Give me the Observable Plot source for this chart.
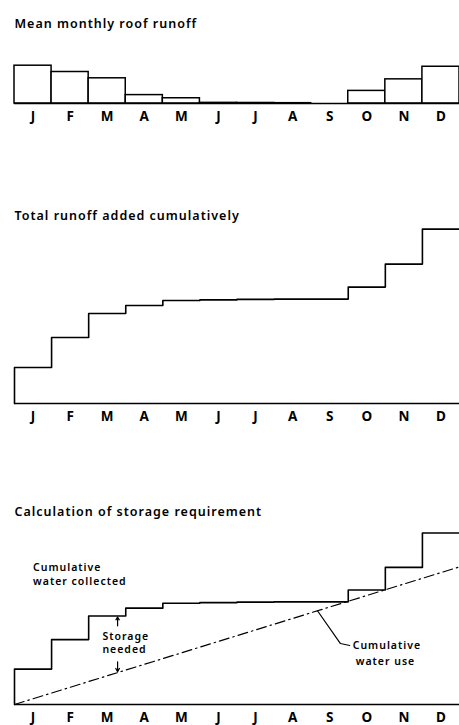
<!DOCTYPE html>
<html><head><meta charset="utf-8">
<script src="https://cdn.jsdelivr.net/npm/d3@7"></script>
<script src="https://cdn.jsdelivr.net/npm/@observablehq/plot@0.6"></script>
<style>
html,body{margin:0;padding:0;background:#fff;}
#chart{position:relative;width:459px;height:725px;overflow:hidden;}
#chart svg{position:absolute;left:0;}
</style></head><body><div id="chart"></div>
<script>
// ---- data ----
const months = ["J","F","M","A","M","J","J","A","S","O","N","D"];
const monthlyRunoff = [36, 30, 24, 8, 5, 0.6, 0.5, 0.3, 0, 12, 23, 35];
const cumulativeUseStartEnd = [0, 140]; // cumulative water use at start / end of year
const panelTitles = ["Mean monthly roof runoff", "Total runoff added cumulatively", "Calculation of storage requirement"];

// ---- derived tables ----
const bars = months.map((m, i) => ({i, m, v: monthlyRunoff[i]}));
const cum = d3.cumsum(monthlyRunoff);
const steps = [{x: 0, y: 0}, ...months.map((m, i) => ({x: i, y: cum[i]})), {x: 12, y: cum[11]}];
const useLine = [{x: 0, y: cumulativeUseStartEnd[0]}, {x: 12, y: cumulativeUseStartEnd[1]}];
const useAt = x => cumulativeUseStartEnd[0] + (cumulativeUseStartEnd[1] - cumulativeUseStartEnd[0]) * x / 12;

const FONT = "'Noto Sans', 'DejaVu Sans', sans-serif";
const chart = document.getElementById("chart");

function monthLabels() {
  return Plot.text(months, {x: (d, i) => i + 0.5, y: () => 0, text: d => d, lineAnchor: "top", dy: 8, dx: 0.5,
    fontSize: 13.5, fontWeight: 700, fill: "black"});
}
function titleMark(t, dy) {
  return Plot.text([t], {frameAnchor: "top-left", textAnchor: "start", lineAnchor: "bottom", dx: 0, dy,
    fontSize: 12.5, fontWeight: 600, fill: "black"});
}
function panel({top, height, marginTop, marginBottom, yMax, marks}) {
  const svg = Plot.plot({
    width: 459, height, marginLeft: 14, marginRight: 0, marginTop, marginBottom,
    x: {domain: [0, 12], axis: null},
    y: {domain: [0, yMax], axis: null},
    style: {fontFamily: FONT, background: "transparent", overflow: "visible", letterSpacing: "1px"},
    marks
  });
  svg.style.top = top + "px";
  chart.appendChild(svg);
}

// Panel 1: mean monthly roof runoff
panel({top: 0, height: 130, marginTop: 61, marginBottom: 27, yMax: 40, marks: [
  Plot.rectY(bars, {x1: d => d.i, x2: d => d.i + 1, y: "v", fill: "white", stroke: "black", strokeWidth: 1.5}),
  Plot.ruleY([0], {stroke: "black", strokeWidth: 1.5}),
  monthLabels(),
  titleMark(panelTitles[0], -34)
]});

// Panel 2: cumulative runoff
panel({top: 195, height: 235, marginTop: 28, marginBottom: 27, yMax: 180, marks: [
  Plot.ruleY([0], {stroke: "black", strokeWidth: 1.5}),
  Plot.line(steps, {x: "x", y: "y", curve: "step-after", stroke: "black", strokeWidth: 1.6}),
  monthLabels(),
  titleMark(panelTitles[1], -4)
]});

// Panel 3: storage requirement
const arrowX = 2.78;
const ann = {textAnchor: "start", lineAnchor: "bottom", fontSize: 10.5, fontWeight: 600};
panel({top: 490, height: 235, marginTop: 37, marginBottom: 21, yMax: 180, marks: [
  Plot.ruleY([0], {stroke: "black", strokeWidth: 1.5}),
  Plot.line(steps, {x: "x", y: "y", curve: "step-after", stroke: "black", strokeWidth: 1.6}),
  Plot.line(useLine, {x: "x", y: "y", stroke: "black", strokeWidth: 1.2, strokeDasharray: "10,4,1.5,4"}),
  Plot.arrow([{x1: arrowX, y1: cum[2] - 10, x2: arrowX, y2: cum[2]}], {x1: "x1", y1: "y1", x2: "x2", y2: "y2", stroke: "black", strokeWidth: 1.2, headLength: 5, insetEnd: 1}),
  Plot.arrow([{x1: arrowX, y1: useAt(arrowX) + 11, x2: arrowX, y2: useAt(arrowX)}], {x1: "x1", y1: "y1", x2: "x2", y2: "y2", stroke: "black", strokeWidth: 1.2, headLength: 5, insetEnd: 1}),
  Plot.line([{x: 8.17, y: useAt(8.17)}, {x: 8.79, y: 62}, {x: 9.04, y: 60}], {x: "x", y: "y", stroke: "black", strokeWidth: 1.2}),
  Plot.text(["Cumulative"], {x: () => 0.5, y: () => 136, ...ann}),
  Plot.text(["water collected"], {x: () => 0.5, y: () => 122, ...ann}),
  Plot.text(["Storage"], {x: () => 2.37, y: () => 65.5, ...ann}),
  Plot.text(["needed"], {x: () => 2.37, y: () => 52, ...ann}),
  Plot.text(["Cumulative"], {x: () => 9.12, y: () => 56, ...ann}),
  Plot.text(["water use"], {x: () => 9.2, y: () => 40.5, ...ann}),
  monthLabels(),
  titleMark(panelTitles[2], -12)
]});
</script></body></html>
